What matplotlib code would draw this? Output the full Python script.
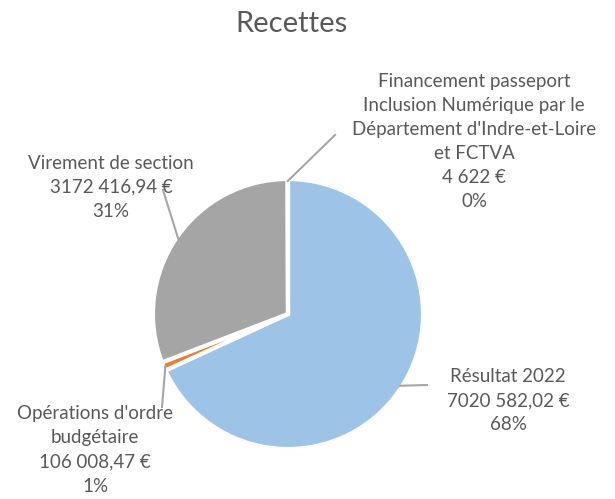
import numpy as np
import matplotlib.pyplot as plt

plt.rcParams['font.family'] = ['Lato', 'DejaVu Sans']

categories = [
    "Résultat 2022",
    "Opérations d'ordre\nbudgétaire",
    "Virement de section",
    "Financement passeport\nInclusion Numérique par le\nDépartement d'Indre-et-Loire\net FCTVA",
]
values = [7020582.02, 106008.47, 3172416.94, 4622.0]
amount_labels = ["7020 582,02 €", "106 008,47 €", "3172 416,94 €", "4 622 €"]
colors = ["#9DC3E6", "#ED7D31", "#A5A5A5", "#FFC000"]

W, H = 615, 499
fig = plt.figure(figsize=(W / 100, H / 100), dpi=100)
ax = fig.add_axes([0, 0, 1, 1])

radius = 135
center = (288, H - 314)
wedges, _ = ax.pie(values, colors=colors, startangle=90, counterclock=False,
                   radius=radius, center=center, explode=[0.03] * 4,
                   wedgeprops=dict(edgecolor='white', linewidth=3))
ax.set_xlim(0, W)
ax.set_ylim(0, H)
ax.set_aspect('equal')
ax.axis('off')

# label layout (pixel positions of text centres and leader ends)
text_pos = [(508, 401), (95, 450), (111, 187), (474, 141)]
leader_end = [(427, 385), (162, 407), (163, 190), (335, 135)]

total = sum(values)
txt_color = "#595959"
for w, cat, amt, v, tp, le in zip(wedges, categories, amount_labels, values, text_pos, leader_end):
    mid = np.deg2rad((w.theta1 + w.theta2) / 2)
    cx, cy = w.center
    sx, sy = cx + (w.r - 2) * np.cos(mid), cy + (w.r - 2) * np.sin(mid)
    ax.plot([sx, le[0]], [sy, H - le[1]], color="#A6A6A6", lw=1.5, zorder=3)
    label = f"{cat}\n{amt}\n{round(v / total * 100)}%"
    ax.text(tp[0], H - tp[1], label, ha='center', va='center', fontsize=13.5,
            color=txt_color, linespacing=1.5)

ax.text(292, H - 24, "Recettes", ha='center', va='center', fontsize=21, color=txt_color)

fig.savefig("out.png", dpi=100)
